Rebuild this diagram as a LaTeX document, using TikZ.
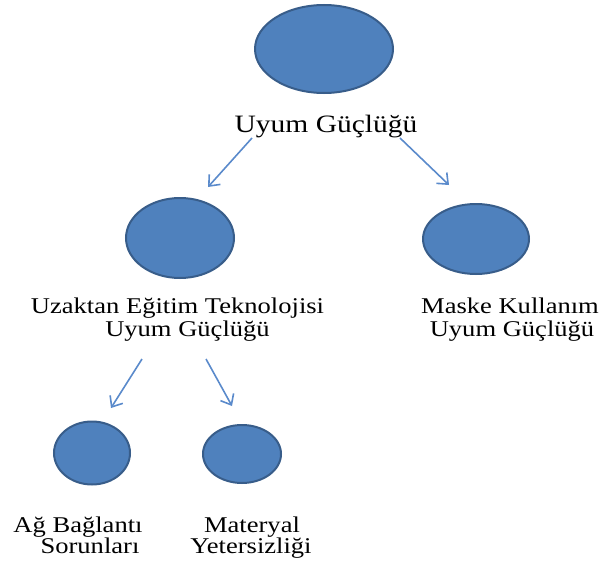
\documentclass[tikz,border=0pt]{standalone}
\usepackage{fontspec}
\setmainfont{Liberation Serif}[FakeStretch=1.18]
\usetikzlibrary{arrows.meta,shapes.geometric}
\definecolor{bubblefill}{HTML}{4F81BD}
\definecolor{bubbleedge}{HTML}{385D8A}
\definecolor{arrowblue}{HTML}{5A8ACB}
\tikzset{
  bubble/.style={ellipse, fill=bubblefill, draw=bubbleedge, line width=2pt, inner sep=0pt},
  lbl/.style={anchor=base, inner sep=0pt, text=black, font=\fontsize{22.5}{22.5}\selectfont},
  toplbl/.style={lbl, font=\fontsize{25}{25}\selectfont},
  arr/.style={draw=arrowblue, line width=1.6pt, -{Straight Barb[length=9pt, width=15pt, line width=1.6pt]}}
}
\begin{document}
\begin{tikzpicture}[x=1pt, y=-1pt]
  \useasboundingbox (0,0) rectangle (605,562);

  % ellipses
  \node[bubble, minimum width=138pt, minimum height=88pt] (root) at (324,49) {};
  \node[bubble, minimum width=108pt, minimum height=80pt] (tech) at (180,238) {};
  \node[bubble, minimum width=106pt, minimum height=70pt] (mask) at (476,239) {};
  \node[bubble, minimum width=76pt, minimum height=63pt] (net) at (92,453) {};
  \node[bubble, minimum width=78pt, minimum height=58pt] (mat) at (242,454) {};

  % labels
  \node[toplbl] (rootA) at (326,132) {Uyum Güçlüğü};
  \node[lbl] (techA) at (177.5,313) {Uzaktan Eğitim Teknolojisi};
  \node[lbl] (techB) at (187.5,336) {Uyum Güçlüğü};
  \node[lbl] (maskA) at (510,313) {Maske Kullanım};
  \node[lbl] (maskB) at (512,336) {Uyum Güçlüğü};
  \node[lbl] (netA) at (78,532) {Ağ Bağlantı};
  \node[lbl] (netB) at (90,553) {Sorunları};
  \node[lbl] (matA) at (252,532) {Materyal};
  \node[lbl] (matB) at (251,553) {Yetersizliği};

  % arrow ends
  \coordinate (r1) at (252,138);
  \coordinate (r1e) at (208,187);
  \coordinate (r2) at (400,138);
  \coordinate (r2e) at (449,185);
  \coordinate (t1) at (142,359);
  \coordinate (t1e) at (111,408);
  \coordinate (t2) at (206,359);
  \coordinate (t2e) at (232,406);

  \draw[arr] (r1) -- (r1e);
  \draw[arr] (r2) -- (r2e);
  \draw[arr] (t1) -- (t1e);
  \draw[arr] (t2) -- (t2e);
\end{tikzpicture}
\end{document}
